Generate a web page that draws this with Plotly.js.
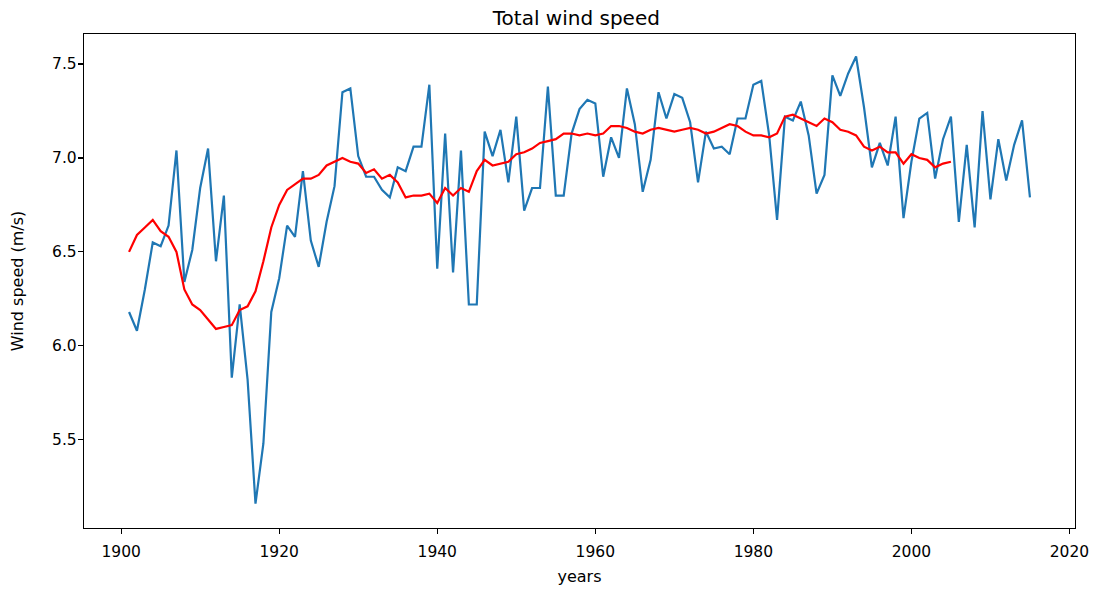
<!DOCTYPE html>
<html>
<head>
<meta charset="utf-8">
<script src="https://cdn.plot.ly/plotly-3.0.1.min.js"></script>
<style>html,body{margin:0;padding:0;background:#fff;}#chart{width:1102px;height:594px;}</style>
</head>
<body>
<div id="chart"></div>
<script>
const years = [];
for (let y = 1901; y <= 2015; y++) years.push(y);

const windSpeed = [
  6.18, 6.08, 6.30, 6.55, 6.53, 6.64, 7.04, 6.34, 6.51, 6.84,
  7.05, 6.45, 6.80, 5.83, 6.22, 5.82, 5.16, 5.48, 6.18, 6.36,
  6.64, 6.58, 6.93, 6.56, 6.42, 6.66, 6.85, 7.35, 7.37, 7.01,
  6.90, 6.90, 6.83, 6.79, 6.95, 6.93, 7.06, 7.06, 7.39, 6.41,
  7.13, 6.39, 7.04, 6.22, 6.22, 7.14, 7.01, 7.15, 6.87, 7.22,
  6.72, 6.84, 6.84, 7.38, 6.80, 6.80, 7.13, 7.26, 7.31, 7.29,
  6.90, 7.11, 7.00, 7.37, 7.18, 6.82, 6.99, 7.35, 7.21, 7.34,
  7.32, 7.19, 6.87, 7.14, 7.05, 7.06, 7.02, 7.21, 7.21, 7.39,
  7.41, 7.12, 6.67, 7.22, 7.20, 7.30, 7.12, 6.81, 6.91, 7.44,
  7.33, 7.45, 7.54, 7.27, 6.95, 7.08, 6.96, 7.22, 6.68, 6.98,
  7.21, 7.24, 6.89, 7.10, 7.22, 6.66, 7.07, 6.63, 7.25, 6.78,
  7.10, 6.88, 7.07, 7.20, 6.79
];

const smoothYears = [];
for (let y = 1901; y <= 2005; y++) smoothYears.push(y);

const smoothSpeed = [
  6.50, 6.59, 6.63, 6.67, 6.61, 6.58, 6.50, 6.30, 6.22, 6.19,
  6.14, 6.09, 6.10, 6.11, 6.19, 6.21, 6.29, 6.45, 6.63, 6.75,
  6.83, 6.86, 6.89, 6.89, 6.91, 6.96, 6.98, 7.00, 6.98, 6.97,
  6.92, 6.94, 6.89, 6.91, 6.87, 6.79, 6.80, 6.80, 6.81, 6.76,
  6.84, 6.80, 6.84, 6.82, 6.93, 6.99, 6.96, 6.97, 6.98, 7.02,
  7.03, 7.05, 7.08, 7.09, 7.10, 7.13, 7.13, 7.12, 7.13, 7.12,
  7.13, 7.17, 7.17, 7.16, 7.14, 7.13, 7.15, 7.16, 7.15, 7.14,
  7.15, 7.16, 7.15, 7.13, 7.14, 7.16, 7.18, 7.17, 7.14, 7.12,
  7.12, 7.11, 7.13, 7.22, 7.23, 7.21, 7.19, 7.17, 7.21, 7.19,
  7.15, 7.14, 7.12, 7.06, 7.04, 7.06, 7.03, 7.03, 6.97, 7.02,
  7.00, 6.99, 6.95, 6.97, 6.98
];

const xTicks = [1900, 1920, 1940, 1960, 1980, 2000, 2020];
const yTicks = [5.5, 6.0, 6.5, 7.0, 7.5];
const yTickText = ["5.5", "6.0", "6.5", "7.0", "7.5"];

const font = {family: "DejaVu Sans, sans-serif", color: "#000"};

const traces = [
  {x: years, y: windSpeed, type: "scatter", mode: "lines",
   line: {color: "#1f77b4", width: 2.2}, hoverinfo: "x+y"},
  {x: smoothYears, y: smoothSpeed, type: "scatter", mode: "lines",
   line: {color: "#ff0000", width: 2.2}, hoverinfo: "x+y"}
];

const axisCommon = {
  showline: true, mirror: true, linecolor: "#000", linewidth: 1.2,
  ticks: "outside", ticklen: 5, tickwidth: 1.2, tickcolor: "#000",
  showgrid: false, zeroline: false,
  tickfont: Object.assign({size: 15.5}, font)
};

const layout = {
  width: 1102, height: 594,
  paper_bgcolor: "#fff", plot_bgcolor: "#fff",
  showlegend: false,
  margin: {l: 84, r: 27, t: 34, b: 66, pad: 0},
  title: {text: "Total wind speed", font: Object.assign({size: 20}, font),
          x: 0.523, xanchor: "center", y: 1 - 18/594, yanchor: "middle"},
  xaxis: Object.assign({}, axisCommon, {
    range: [1895.3, 2020.7], tickvals: xTicks, ticklabelstandoff: 4,
    title: {text: "years", font: Object.assign({size: 16}, font), standoff: 11}
  }),
  yaxis: Object.assign({}, axisCommon, {
    range: [5.03, 7.66], tickvals: yTicks, ticktext: yTickText, ticklabelstandoff: -2,
    title: {text: "Wind speed (m/s)", font: Object.assign({size: 16}, font), standoff: 24}
  })
};

Plotly.newPlot("chart", traces, layout, {displayModeBar: false, staticPlot: true});
</script>
</body>
</html>
